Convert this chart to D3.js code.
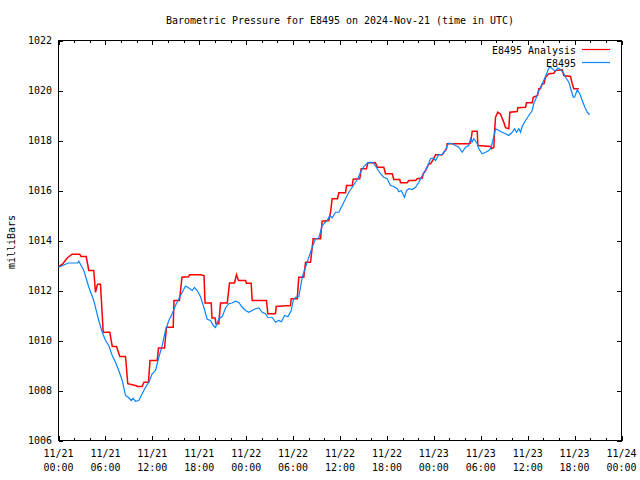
<!DOCTYPE html>
<html>
<head>
<meta charset="utf-8">
<script src="https://cdn.jsdelivr.net/npm/d3@7"></script>
<style>
  html, body { margin: 0; padding: 0; background: #fff; }
  text { font-family: "DejaVu Sans Mono", "Liberation Mono", monospace; font-size: 10px; fill: #000; }
</style>
</head>
<body>
<svg id="chart" width="640" height="480"></svg>
<script>
// ---- data (hours since 2024-11-21 00:00 UTC, millibars) ----
const titleText = "Barometric Pressure for E8495 on 2024-Nov-21 (time in UTC)";
const yLabel = "milliBars";
const seriesNames = ["E8495 Analysis", "E8495"];
const seriesColors = ["#ff0000", "#0a84ff"];

const xTickHours = [0, 6, 12, 18, 24, 30, 36, 42, 48, 54, 60, 66, 72];
const xTickDates = ["11/21","11/21","11/21","11/21","11/22","11/22","11/22","11/22","11/23","11/23","11/23","11/23","11/24"];
const xTickTimes = ["00:00","06:00","12:00","18:00","00:00","06:00","12:00","18:00","00:00","06:00","12:00","18:00","00:00"];
const yTicks = [1006, 1008, 1010, 1012, 1014, 1016, 1018, 1020, 1022];

const redHours = [0.0,0.51,1.11,1.75,2.72,2.88,3.54,3.88,4.51,4.73,4.99,5.37,5.72,6.56,6.87,7.42,7.84,8.57,8.86,9.85,10.1,10.7,10.93,11.51,11.70,12.62,12.79,13.56,13.81,14.67,14.77,15.47,15.79,16.63,16.75,18.16,18.61,18.74,19.53,19.63,20.02,20.14,20.5,20.72,21.58,21.87,22.51,22.76,23.02,23.92,24.04,24.64,24.77,26.6,26.77,27.75,27.84,28.61,29.67,29.76,30.53,30.73,31.37,31.59,32.23,32.45,32.57,33.51,33.72,34.57,34.79,35.0,35.68,35.85,36.71,36.83,37.56,37.69,38.53,38.71,39.39,39.56,40.54,40.76,41.6,41.82,42.68,42.88,43.65,43.74,44.6,44.8,45.66,45.88,46.52,46.64,46.94,47.36,47.58,48.0,48.22,49.07,49.62,49.71,52.47,52.69,52.91,53.55,53.63,55.25,55.38,55.67,55.76,55.89,56.18,56.53,56.95,57.17,57.59,57.72,58.66,58.74,59.73,59.85,60.58,60.71,61.26,61.43,61.64,61.86,62.09,62.28,62.71,63.35,63.56,64.42,64.62,65.48,65.7,65.9,66.54];
const redValues = [1012.95,1013.05,1013.3,1013.45,1013.45,1013.36,1013.36,1012.8,1012.8,1011.93,1012.25,1012.25,1010.33,1010.33,1009.76,1009.76,1009.36,1009.36,1008.27,1008.2,1008.16,1008.16,1008.33,1008.33,1009.2,1009.2,1009.7,1009.7,1010.53,1010.53,1011.6,1011.6,1012.53,1012.55,1012.63,1012.63,1012.6,1011.5,1011.5,1010.9,1010.9,1010.67,1010.67,1011.5,1011.5,1012.3,1012.3,1012.63,1012.4,1012.4,1012.29,1012.29,1011.6,1011.6,1011.07,1011.07,1011.36,1011.38,1011.4,1011.67,1011.67,1012.53,1012.53,1013.13,1013.13,1013.73,1014.07,1014.07,1014.77,1014.8,1015.13,1015.67,1015.67,1015.91,1015.91,1016.2,1016.2,1016.45,1016.47,1016.87,1016.87,1017.11,1017.11,1016.93,1016.93,1016.67,1016.67,1016.44,1016.44,1016.31,1016.31,1016.4,1016.4,1016.47,1016.5,1016.67,1016.8,1017.07,1017.07,1017.27,1017.43,1017.43,1017.67,1017.87,1017.87,1017.9,1018.37,1018.37,1017.8,1017.76,1017.67,1017.72,1018.33,1018.93,1019.13,1019.05,1018.73,1018.51,1018.47,1019.13,1019.16,1019.31,1019.33,1019.51,1019.51,1019.73,1019.8,1020.07,1020.07,1020.27,1020.27,1020.53,1020.67,1020.69,1020.8,1020.83,1020.6,1020.56,1020.27,1020.07,1020.07];

const blueHours = [0.0,0.51,0.9,1.28,2.47,2.6,3.24,3.88,4.51,5.15,5.59,6.01,6.43,6.87,7.29,7.71,8.15,8.57,8.99,9.3,9.55,9.85,10.27,10.7,11.13,11.55,11.98,12.41,12.83,13.26,13.68,14.11,14.54,14.96,15.39,15.82,16.24,16.66,17.1,17.39,17.74,18.16,18.58,19.02,19.44,19.79,20.08,20.5,20.94,21.36,21.78,22.21,22.64,23.06,23.49,23.92,24.34,24.77,25.19,25.62,26.05,26.47,26.77,27.33,27.75,28.17,28.52,28.9,29.33,29.76,30.02,30.31,30.73,30.95,31.17,31.59,32.01,32.45,32.87,33.29,33.72,34.37,34.7,35.0,35.43,35.85,36.28,36.71,37.13,37.56,37.98,38.28,38.62,39.05,39.48,39.9,40.32,40.76,41.18,41.6,42.03,42.46,42.88,43.31,43.52,43.83,44.25,44.51,44.8,45.23,45.66,46.08,46.52,46.94,47.36,47.58,47.92,48.22,48.64,49.07,49.49,49.71,49.92,50.35,50.77,51.2,51.63,52.05,52.47,52.69,52.91,53.11,53.55,53.75,54.18,54.61,55.03,55.34,55.6,55.89,56.31,56.75,57.17,57.59,58.02,58.32,58.57,58.87,59.09,59.3,59.73,60.15,60.58,60.79,61.13,61.43,61.86,62.28,62.58,62.83,63.14,63.56,63.86,64.2,64.55,64.84,65.27,65.57,65.83,66.0,66.34,66.67,66.98,67.31,67.62,67.91];
const blueValues = [1012.93,1013.0,1013.05,1013.1,1013.1,1013.17,1012.8,1012.13,1011.6,1010.8,1010.33,1010.0,1009.8,1009.4,1009.13,1008.8,1008.4,1007.8,1007.71,1007.6,1007.68,1007.57,1007.6,1007.87,1008.13,1008.33,1008.67,1008.8,1009.33,1009.8,1010.4,1010.8,1011.07,1011.4,1011.67,1011.93,1012.18,1012.1,1012.0,1012.12,1012.0,1011.75,1011.33,1010.85,1010.8,1010.6,1010.52,1010.87,1010.96,1011.3,1011.47,1011.5,1011.57,1011.52,1011.33,1011.2,1011.13,1011.2,1011.27,1011.3,1011.13,1011.07,1010.93,1010.92,1010.73,1010.8,1010.75,1011.0,1010.95,1011.2,1011.6,1011.73,1011.75,1012.13,1012.53,1012.93,1013.33,1013.73,1014.07,1014.1,1014.6,1014.8,1015.0,1014.91,1015.13,1015.13,1015.4,1015.67,1015.93,1016.13,1016.33,1016.47,1016.73,1016.96,1017.09,1017.13,1017.09,1016.87,1016.67,1016.53,1016.47,1016.2,1016.16,1016.07,1015.95,1016.0,1015.73,1016.0,1016.07,1016.04,1016.13,1016.33,1016.6,1016.8,1017.1,1017.27,1017.3,1017.2,1017.44,1017.44,1017.6,1017.8,1017.89,1017.87,1017.8,1017.73,1017.53,1017.73,1017.8,1018.07,1017.95,1018.07,1017.87,1017.67,1017.47,1017.53,1017.6,1017.73,1018.07,1018.47,1018.4,1018.33,1018.27,1018.2,1018.33,1018.47,1018.33,1018.47,1018.33,1018.56,1018.8,1019.0,1019.2,1019.49,1019.73,1020.0,1020.27,1020.56,1020.8,1020.96,1020.87,1020.77,1020.91,1020.83,1020.73,1020.53,1020.33,1020.0,1019.73,1019.73,1020.03,1019.87,1019.6,1019.33,1019.13,1019.03];

// ---- layout ----
const svg = d3.select("#chart");
const L = 58.5, R = 621.5, T = 40.5, B = 440.5;
const x = d3.scaleLinear().domain([0, 72]).range([L, R]);
const y = d3.scaleLinear().domain([1006, 1022]).range([B, T]);
const CW = 6.0; // char width of the bitmap-like font

function fitText(sel) {
  sel.each(function() {
    const s = this.textContent;
    d3.select(this).attr("textLength", s.length * CW).attr("lengthAdjust", "spacingAndGlyphs");
  });
  return sel;
}

// title
fitText(svg.append("text").attr("x", (L + R) / 2).attr("y", 24)
  .attr("text-anchor", "middle").style("font-size", "11px").text(titleText));

// axes (ticks pointing inward, no domain path)
const minorHours = d3.range(0, 73, 2);
function addAxis(gen, tx, ty) {
  const g = svg.append("g").attr("transform", `translate(${tx},${ty})`).call(gen);
  g.select(".domain").remove();
  g.selectAll(".tick line").attr("stroke", "#000").attr("shape-rendering", "crispEdges");
  g.selectAll(".tick text").remove();
  return g;
}
addAxis(d3.axisBottom(x).tickValues(minorHours).tickSize(-2.5).tickFormat(""), 0, B);
addAxis(d3.axisTop(x).tickValues(minorHours).tickSize(-2.5).tickFormat(""), 0, T);
addAxis(d3.axisBottom(x).tickValues(xTickHours).tickSize(-4.5).tickFormat(""), 0, B);
addAxis(d3.axisTop(x).tickValues(xTickHours).tickSize(-4.5).tickFormat(""), 0, T);
addAxis(d3.axisLeft(y).tickValues(yTicks).tickSize(-4.5).tickFormat(""), L, 0);
addAxis(d3.axisRight(y).tickValues(yTicks).tickSize(-4.5).tickFormat(""), R, 0);

// frame
svg.append("rect").attr("x", L).attr("y", T).attr("width", R - L).attr("height", B - T)
  .attr("fill", "none").attr("stroke", "#000").attr("shape-rendering", "crispEdges");

// y tick labels
fitText(svg.append("g").selectAll("text").data(yTicks).join("text")
  .attr("x", 52).attr("y", d => y(d) + 3.8).attr("text-anchor", "end").text(d => d));

// x tick labels (two lines)
const xl = svg.append("g").selectAll("g").data(xTickHours).join("g");
fitText(xl.append("text").attr("x", d => x(d)).attr("y", 457).attr("text-anchor", "middle")
  .text((d, i) => xTickDates[i]));
fitText(xl.append("text").attr("x", d => x(d)).attr("y", 471).attr("text-anchor", "middle")
  .text((d, i) => xTickTimes[i]));

// y axis label
fitText(svg.append("text").attr("transform", "translate(15,242) rotate(-90)")
  .attr("text-anchor", "middle").text(yLabel));

// series
const line = d3.line().x(d => x(d[0])).y(d => y(d[1]));
const redData = redHours.map((h, i) => [h, redValues[i]]);
const blueData = blueHours.map((h, i) => [h, blueValues[i]]);
svg.append("path").datum(redData).attr("d", line).attr("fill", "none")
  .attr("stroke", seriesColors[0]).attr("stroke-width", 1.5).attr("stroke-linejoin", "miter");
svg.append("path").datum(blueData).attr("d", line).attr("fill", "none")
  .attr("stroke", seriesColors[1]).attr("stroke-width", 1.2);

// legend
seriesNames.forEach((name, i) => {
  const ly = 49.5 + i * 13;
  fitText(svg.append("text").attr("x", 576).attr("y", ly + 4).attr("text-anchor", "end").text(name));
  svg.append("line").attr("x1", 582).attr("x2", 610).attr("y1", ly).attr("y2", ly)
    .attr("stroke", seriesColors[i]).attr("stroke-width", 1.2);
});
</script>
</body>
</html>
